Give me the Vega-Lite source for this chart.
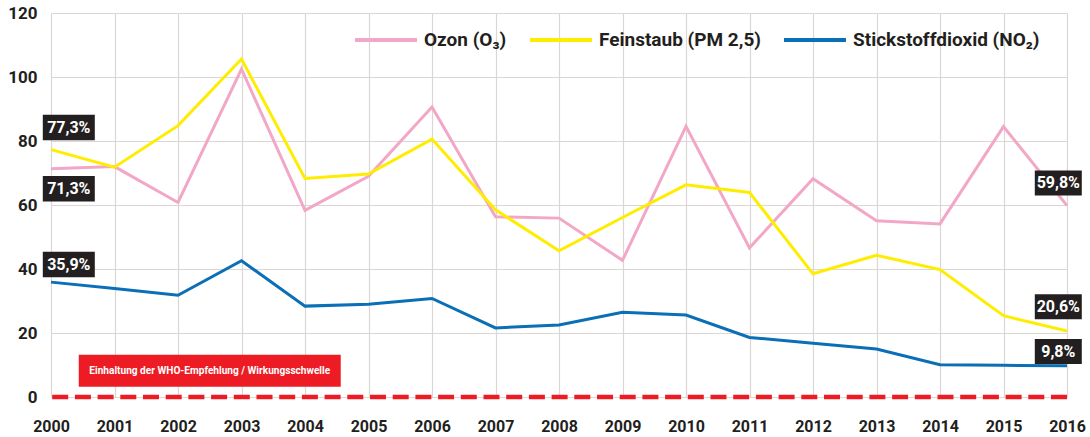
{
  "$schema": "https://vega.github.io/schema/vega-lite/v6.json",
  "width": 1016,
  "height": 384,
  "autosize": {"type": "none"},
  "padding": {"left": 51, "top": 13, "right": 23, "bottom": 40},
  "background": "white",
  "config": {
    "view": {"stroke": null},
    "axis": {
      "grid": true,
      "gridColor": "#ddd7d4",
      "gridWidth": 1.2,
      "domain": false,
      "ticks": false,
      "title": null,
      "labelFlush": false,
      "labelOverlap": false,
      "labelFont": "Roboto",
      "labelFontWeight": "bold",
      "labelColor": "#231f20"
    }
  },
  "datasets": {
    "main": [
      {"series": "Ozon (O₃)", "year": 2000, "value": 71.3},
      {"series": "Ozon (O₃)", "year": 2001, "value": 72.0},
      {"series": "Ozon (O₃)", "year": 2002, "value": 60.8},
      {"series": "Ozon (O₃)", "year": 2003, "value": 102.5},
      {"series": "Ozon (O₃)", "year": 2004, "value": 58.3},
      {"series": "Ozon (O₃)", "year": 2005, "value": 69.0},
      {"series": "Ozon (O₃)", "year": 2006, "value": 90.6},
      {"series": "Ozon (O₃)", "year": 2007, "value": 56.3},
      {"series": "Ozon (O₃)", "year": 2008, "value": 55.9},
      {"series": "Ozon (O₃)", "year": 2009, "value": 42.7},
      {"series": "Ozon (O₃)", "year": 2010, "value": 84.6},
      {"series": "Ozon (O₃)", "year": 2011, "value": 46.6},
      {"series": "Ozon (O₃)", "year": 2012, "value": 68.2},
      {"series": "Ozon (O₃)", "year": 2013, "value": 55.1},
      {"series": "Ozon (O₃)", "year": 2014, "value": 54.1},
      {"series": "Ozon (O₃)", "year": 2015, "value": 84.5},
      {"series": "Ozon (O₃)", "year": 2016, "value": 59.8},
      {"series": "Feinstaub (PM 2,5)", "year": 2000, "value": 77.3},
      {"series": "Feinstaub (PM 2,5)", "year": 2001, "value": 71.8},
      {"series": "Feinstaub (PM 2,5)", "year": 2002, "value": 84.8},
      {"series": "Feinstaub (PM 2,5)", "year": 2003, "value": 105.6},
      {"series": "Feinstaub (PM 2,5)", "year": 2004, "value": 68.3},
      {"series": "Feinstaub (PM 2,5)", "year": 2005, "value": 69.7},
      {"series": "Feinstaub (PM 2,5)", "year": 2006, "value": 80.6},
      {"series": "Feinstaub (PM 2,5)", "year": 2007, "value": 58.5},
      {"series": "Feinstaub (PM 2,5)", "year": 2008, "value": 45.7},
      {"series": "Feinstaub (PM 2,5)", "year": 2009, "value": 56.1},
      {"series": "Feinstaub (PM 2,5)", "year": 2010, "value": 66.3},
      {"series": "Feinstaub (PM 2,5)", "year": 2011, "value": 63.9},
      {"series": "Feinstaub (PM 2,5)", "year": 2012, "value": 38.5},
      {"series": "Feinstaub (PM 2,5)", "year": 2013, "value": 44.3},
      {"series": "Feinstaub (PM 2,5)", "year": 2014, "value": 39.8},
      {"series": "Feinstaub (PM 2,5)", "year": 2015, "value": 25.4},
      {"series": "Feinstaub (PM 2,5)", "year": 2016, "value": 20.6},
      {"series": "Stickstoffdioxid (NO₂)", "year": 2000, "value": 35.9},
      {"series": "Stickstoffdioxid (NO₂)", "year": 2001, "value": 33.9},
      {"series": "Stickstoffdioxid (NO₂)", "year": 2002, "value": 31.8},
      {"series": "Stickstoffdioxid (NO₂)", "year": 2003, "value": 42.6},
      {"series": "Stickstoffdioxid (NO₂)", "year": 2004, "value": 28.4},
      {"series": "Stickstoffdioxid (NO₂)", "year": 2005, "value": 29.0},
      {"series": "Stickstoffdioxid (NO₂)", "year": 2006, "value": 30.8},
      {"series": "Stickstoffdioxid (NO₂)", "year": 2007, "value": 21.6},
      {"series": "Stickstoffdioxid (NO₂)", "year": 2008, "value": 22.5},
      {"series": "Stickstoffdioxid (NO₂)", "year": 2009, "value": 26.5},
      {"series": "Stickstoffdioxid (NO₂)", "year": 2010, "value": 25.6},
      {"series": "Stickstoffdioxid (NO₂)", "year": 2011, "value": 18.6},
      {"series": "Stickstoffdioxid (NO₂)", "year": 2012, "value": 16.8},
      {"series": "Stickstoffdioxid (NO₂)", "year": 2013, "value": 15.0},
      {"series": "Stickstoffdioxid (NO₂)", "year": 2014, "value": 10.1},
      {"series": "Stickstoffdioxid (NO₂)", "year": 2015, "value": 9.9},
      {"series": "Stickstoffdioxid (NO₂)", "year": 2016, "value": 9.8}
    ],
    "leftLabels": [
      {"year": 2000, "labelY": 84.2, "label": "77,3%"},
      {"year": 2000, "labelY": 65.1, "label": "71,3%"},
      {"year": 2000, "labelY": 41.4, "label": "35,9%"}
    ],
    "rightLabels": [
      {"year": 2016, "labelY": 66.9, "label": "59,8%"},
      {"year": 2016, "labelY": 28.2, "label": "20,6%"},
      {"year": 2016, "labelY": 14.2, "label": "9,8%"}
    ],
    "threshold": [
      {"year": 2002.5, "labelY": 8.2, "value": 0, "label": "Einhaltung der WHO-Empfehlung / Wirkungsschwelle"}
    ]
  },
  "layer": [
    {
      "data": {"name": "threshold"},
      "mark": {"type": "rule", "color": "#ed1c24", "strokeWidth": 4.5, "strokeDash": [16, 6.7]},
      "encoding": {"y": {"field": "value", "type": "quantitative", "scale": {"domain": [0, 120]}}}
    },
    {
      "data": {"name": "threshold"},
      "mark": {"type": "point", "filled": true, "opacity": 1, "color": "#ed1c24", "shape": "M-1,-0.1221H1V0.1221H-1Z", "size": 68644},
      "encoding": {
        "x": {"field": "year", "type": "quantitative"},
        "y": {"field": "labelY", "type": "quantitative"}
      }
    },
    {
      "data": {"name": "threshold"},
      "mark": {"type": "text", "color": "white", "font": "Roboto", "fontWeight": "bold", "fontSize": 10.1, "align": "center", "baseline": "middle"},
      "encoding": {
        "x": {"field": "year", "type": "quantitative"},
        "y": {"field": "labelY", "type": "quantitative"},
        "text": {"field": "label"}
      }
    },
    {
      "data": {"name": "main"},
      "mark": {"type": "line", "strokeWidth": 3},
      "encoding": {
        "x": {
          "field": "year", "type": "quantitative",
          "scale": {"domain": [2000, 2016], "nice": false, "zero": false},
          "axis": {"values": [2000,2001,2002,2003,2004,2005,2006,2007,2008,2009,2010,2011,2012,2013,2014,2015,2016], "format": "d", "labelFontSize": 16, "labelPadding": 21}
        },
        "y": {
          "field": "value", "type": "quantitative",
          "scale": {"domain": [0, 120], "nice": false},
          "axis": {"values": [0, 20, 40, 60, 80, 100, 120], "labelFontSize": 17, "labelPadding": 14}
        },
        "color": {
          "field": "series", "type": "nominal",
          "scale": {
            "domain": ["Ozon (O₃)", "Feinstaub (PM 2,5)", "Stickstoffdioxid (NO₂)"],
            "range": ["#f3a7c7", "#ffed00", "#0a6fb6"]
          },
          "legend": {
            "orient": "none", "legendX": 302, "legendY": -6, "direction": "horizontal",
            "title": null, "symbolType": "stroke", "symbolSize": 3844, "symbolStrokeWidth": 4,
            "labelFont": "Roboto", "labelFontSize": 19, "labelFontWeight": "bold", "labelColor": "#231f20",
            "labelOffset": 5, "columnPadding": 15, "labelLimit": 0
          }
        }
      }
    },
    {
      "data": {"name": "leftLabels"},
      "mark": {"type": "point", "filled": true, "opacity": 1, "color": "#231f20", "shape": "M-1,-0.49H1V0.49H-1Z", "size": 2704, "xOffset": 17.8},
      "encoding": {
        "x": {"field": "year", "type": "quantitative"},
        "y": {"field": "labelY", "type": "quantitative"}
      }
    },
    {
      "data": {"name": "leftLabels"},
      "mark": {"type": "text", "color": "white", "font": "Roboto", "fontWeight": "bold", "fontSize": 16, "align": "center", "baseline": "middle", "xOffset": 17.8},
      "encoding": {
        "x": {"field": "year", "type": "quantitative"},
        "y": {"field": "labelY", "type": "quantitative"},
        "text": {"field": "label"}
      }
    },
    {
      "data": {"name": "rightLabels"},
      "mark": {"type": "point", "filled": true, "opacity": 1, "color": "#231f20", "shape": "M-1,-0.532H1V0.532H-1Z", "size": 2209, "xOffset": -8.7},
      "encoding": {
        "x": {"field": "year", "type": "quantitative"},
        "y": {"field": "labelY", "type": "quantitative"}
      }
    },
    {
      "data": {"name": "rightLabels"},
      "mark": {"type": "text", "color": "white", "font": "Roboto", "fontWeight": "bold", "fontSize": 16, "align": "center", "baseline": "middle", "xOffset": -8.7},
      "encoding": {
        "x": {"field": "year", "type": "quantitative"},
        "y": {"field": "labelY", "type": "quantitative"},
        "text": {"field": "label"}
      }
    }
  ]
}
